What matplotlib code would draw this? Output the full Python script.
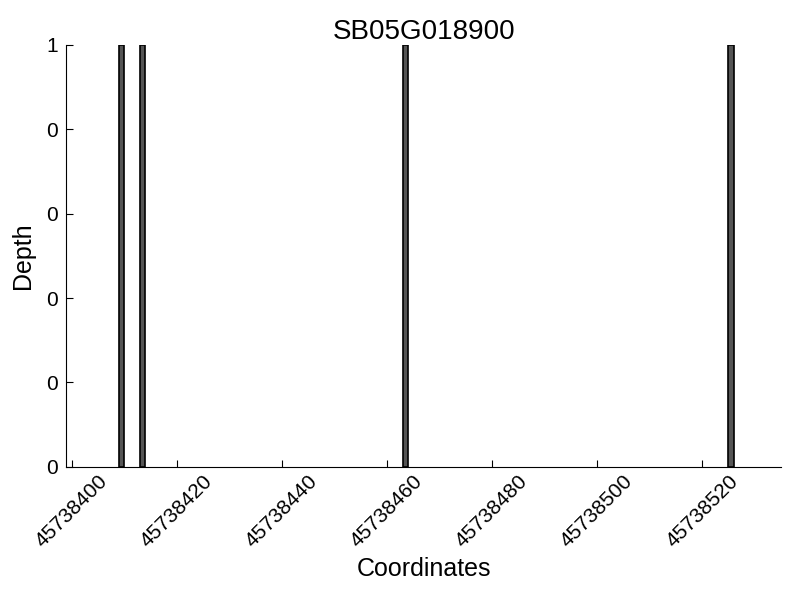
import matplotlib
matplotlib.use('Agg')
import matplotlib.pyplot as plt
from matplotlib.ticker import FormatStrFormatter

plt.rcParams['font.family'] = ['Liberation Sans', 'DejaVu Sans']

title = 'SB05G018900'
start, end = 45738399, 45738535
positions = [45738409, 45738413, 45738463, 45738525]
depth = [1, 1, 1, 1]

fig = plt.figure(figsize=(8, 6), dpi=100)
ax = fig.add_subplot(111)
fig.subplots_adjust(left=0.083, right=0.976, top=0.925, bottom=0.222)

ax.bar(positions, depth, width=1, align='edge', color='#555555', edgecolor='black', linewidth=1.2)

ax.set_xlim(start, end)
ax.set_ylim(0, 1)
ax.set_yticks([0, 0.2, 0.4, 0.6, 0.8, 1.0])
ax.yaxis.set_major_formatter(FormatStrFormatter('%d'))
ax.xaxis.set_major_formatter(FormatStrFormatter('%d'))
ax.set_xticks(range(45738400, 45738521, 20))

ax.spines['top'].set_visible(False)
ax.spines['right'].set_visible(False)
ax.tick_params(direction='in', length=5, labelsize=15, top=False, right=False)
ax.tick_params(axis='y', pad=6)
plt.setp(ax.get_xticklabels(), rotation=45, ha='center')

ax.set_title(title, fontsize=20, pad=4)
ax.set_xlabel('Coordinates', fontsize=18)
ax.set_ylabel('Depth', fontsize=18, labelpad=8)

plt.savefig('out.png', dpi=100)
